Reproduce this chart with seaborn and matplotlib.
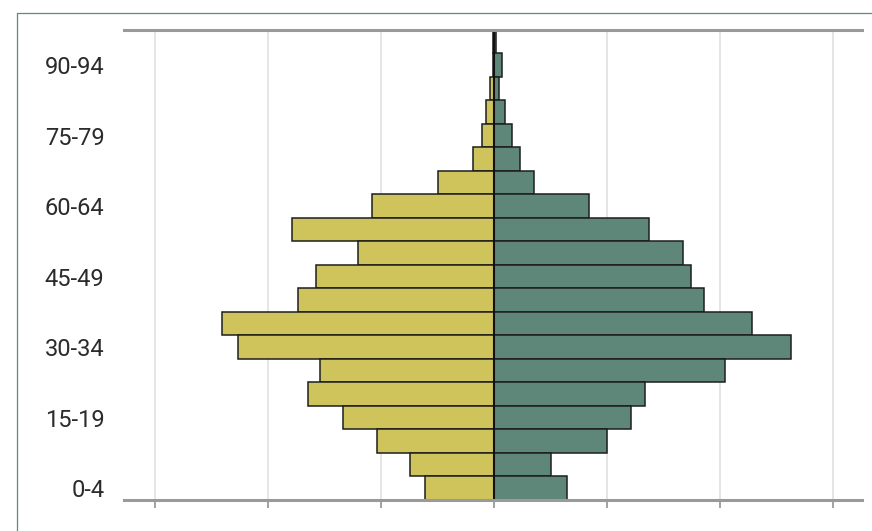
import matplotlib
matplotlib.use("Agg")
import matplotlib.pyplot as plt
from matplotlib.lines import Line2D
import seaborn as sns
import pandas as pd

ages = ["0-4", "5-9", "10-14", "15-19", "20-24", "25-29", "30-34", "35-39",
        "40-44", "45-49", "50-54", "55-59", "60-64", "65-69", "70-74",
        "75-79", "80-84", "85-89", "90-94", "95-99"]
left_vals = [0.61, 0.75, 1.04, 1.34, 1.65, 1.54, 2.27, 2.41, 1.74, 1.58,
             1.21, 1.79, 1.08, 0.50, 0.19, 0.11, 0.07, 0.04, 0.015, 0.01]
right_vals = [0.64, 0.50, 1.00, 1.21, 1.33, 2.04, 2.63, 2.28, 1.86, 1.74,
              1.67, 1.37, 0.84, 0.35, 0.23, 0.16, 0.095, 0.04, 0.07, 0.015]
shown_labels = ["0-4", "15-19", "30-34", "45-49", "60-64", "75-79", "90-94"]
groups = ["left", "right"]
colors = {"left": "#cfc35b", "right": "#5e877a"}

df = pd.DataFrame({
    "age": ages + ages,
    "value": [-v for v in left_vals] + right_vals,
    "group": ["left"] * len(ages) + ["right"] * len(ages),
})

sns.set_style("white")
plt.rcParams["font.family"] = ["Roboto", "DejaVu Sans"]

W, H = 872, 531
fig = plt.figure(figsize=(W / 100, H / 100), dpi=100)
ax = fig.add_axes([124 / W, 31 / H, (862 - 124) / W, (500 - 30) / H])

order = ages[::-1]
sns.barplot(data=df, x="value", y="age", hue="group", order=order,
            hue_order=groups, palette=colors, dodge=False, width=1.0,
            saturation=1, edgecolor="#1e1e1e", linewidth=1.1, legend=False,
            ax=ax, zorder=3)

ax.axvline(0, color="#111111", lw=1.5, zorder=4)
ax.set_xlim(-3.277, 3.255)
ax.set_ylim(len(order) - 0.5, -0.5)

ax.set_xticks([-3, -2, -1, 0, 1, 2, 3])
ax.set_xticklabels([])
ax.grid(axis="x", color="#e0e0e0", lw=1.2, zorder=0)
ax.grid(axis="y", visible=False)
ax.set_axisbelow(True)
ax.tick_params(axis="x", bottom=True, length=6, width=1.3, color="#9a9a9a",
               direction="out")

ax.set_yticks([order.index(l) for l in shown_labels])
ax.set_yticklabels(shown_labels)
ax.tick_params(axis="y", left=False, length=0, pad=14, labelsize=17,
               labelcolor="#2b2b2b")

ax.set_xlabel("")
ax.set_ylabel("")
for s in ["left", "right"]:
    ax.spines[s].set_visible(False)
for s in ["top", "bottom"]:
    ax.spines[s].set_visible(True)
    ax.spines[s].set_color("#9a9a9a")
    ax.spines[s].set_linewidth(2.2)
    ax.spines[s].set_zorder(5)

# outer frame (left and top edges visible)
bc = "#5b8c7c"
fig.add_artist(Line2D([16.5 / W, 16.5 / W], [0, 1 - 12.5 / H],
                      transform=fig.transFigure, color=bc, lw=0.9))
fig.add_artist(Line2D([16.5 / W, 1], [1 - 12.5 / H, 1 - 12.5 / H],
                      transform=fig.transFigure, color=bc, lw=0.9))

fig.savefig("out.png", dpi=100)
